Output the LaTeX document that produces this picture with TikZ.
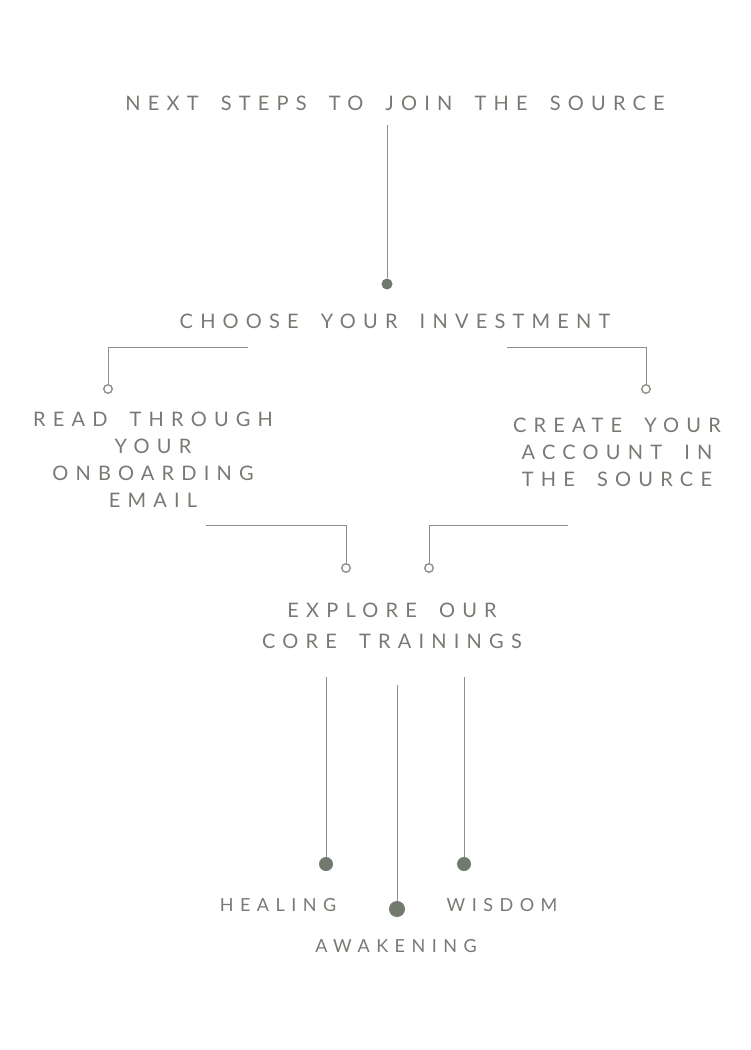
\documentclass[tikz,border=0pt]{standalone}
\usepackage{fontspec}
\setmainfont{Lato}
\newfontfamily\spaced[LetterSpace=36, WordSpace=1.8]{Lato}
\definecolor{sage}{RGB}{114,121,110}
\definecolor{stone}{RGB}{142,145,136}
\definecolor{ink}{RGB}{118,122,114}

\begin{document}
\begin{tikzpicture}[x=1pt, y=-1pt,
    heading/.style={text=ink, font=\spaced\fontsize{20}{27}\selectfont, align=center, inner sep=0pt},
    training/.style={text=ink, font=\spaced\fontsize{18}{27}\selectfont, align=center, inner sep=0pt},
    bead/.style={circle, fill=sage, inner sep=0pt, minimum size=#1},
    bead/.default=11pt,
    ring/.style={circle, draw=stone, line width=1.4pt, fill=white, inner sep=0pt, minimum size=8.5pt},
    edge/.style={draw=stone, line width=1pt}]

\useasboundingbox (0,0) rectangle (750,1050);

\node [heading] (title) at (395,103) {NEXT STEPS TO JOIN THE SOURCE};
\node [bead] (top) at (387,284) {};
\node [heading] (invest) at (395,321) {CHOOSE YOUR INVESTMENT};
\coordinate (investL) at (248,347);
\coordinate (investR) at (507,347);
\node [ring] (ringL) at (108,389) {};
\node [ring] (ringR) at (646,389) {};
\node [heading] (email) at (153,460) {READ THROUGH\\YOUR\\ONBOARDING\\EMAIL};
\node [heading] (account) at (617,452) {CREATE YOUR\\ACCOUNT IN\\THE SOURCE};
\coordinate (emailR) at (206,525);
\coordinate (accountL) at (568,525);
\node [ring] (ringE) at (346,568) {};
\node [ring] (ringA) at (429,568) {};
\node [heading] (explore) at (392,626) {EXPLORE OUR\\[4pt]CORE TRAININGS};
\coordinate (exploreL) at (326,677);
\coordinate (exploreM) at (397,685);
\coordinate (exploreR) at (464,677);
\node [bead=14pt] (heal) at (326,864) {};
\node [bead=16pt] (awake) at (397,909) {};
\node [bead=14pt] (wise) at (464,864) {};
\node [training] (healing) at (278,905) {HEALING};
\node [training] (wisdom) at (502,905) {WISDOM};
\node [training] (awakening) at (396,946) {AWAKENING};

\draw [edge, shorten <=14pt] (title.south -| top) -- (top);
\draw [edge] (investL) -| (ringL);
\draw [edge] (investR) -| (ringR);
\draw [edge] (emailR) -| (ringE);
\draw [edge] (accountL) -| (ringA);
\draw [edge] (exploreL) -- (heal);
\draw [edge] (exploreM) -- (awake);
\draw [edge] (exploreR) -- (wise);

\end{tikzpicture}
\end{document}
